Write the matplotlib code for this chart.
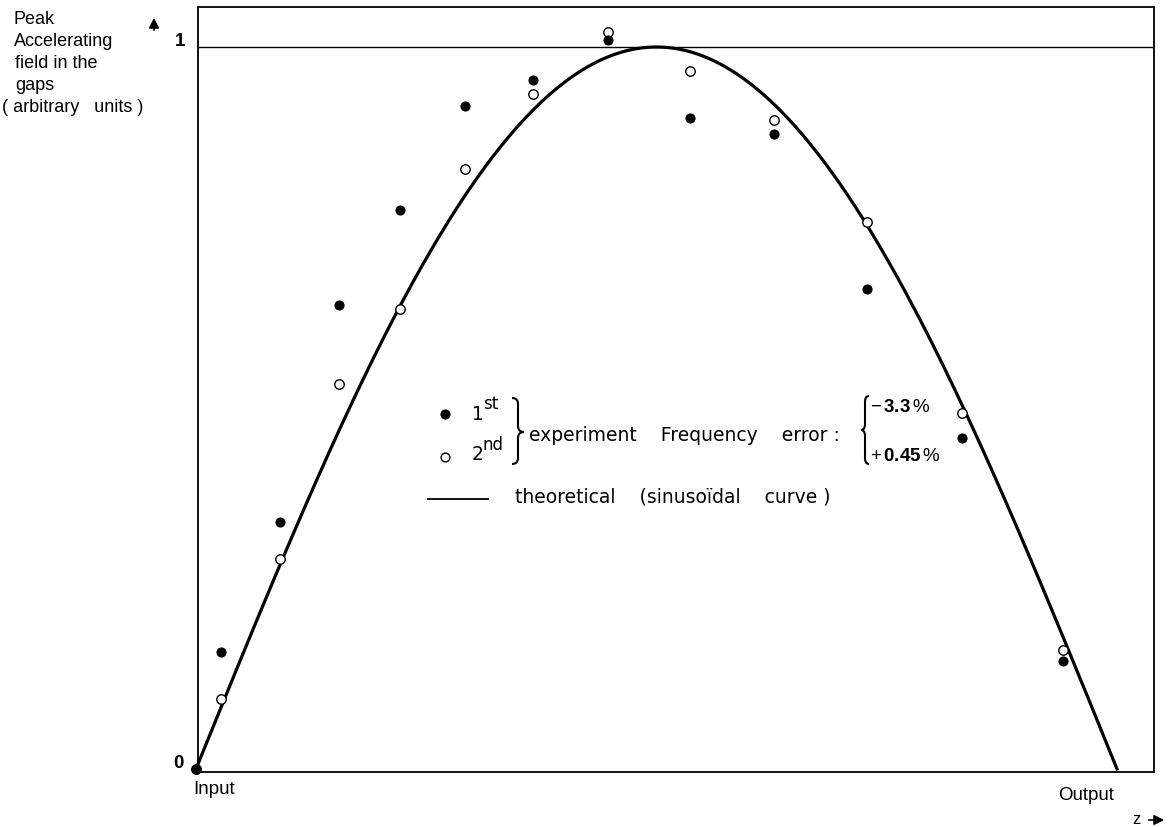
import numpy as np
import matplotlib
matplotlib.use("Agg")
import matplotlib.pyplot as plt
from matplotlib.path import Path
from matplotlib.patches import PathPatch, FancyArrowPatch
from matplotlib.lines import Line2D

plt.rcParams["font.family"] = ["Liberation Sans", "DejaVu Sans"]
plt.rcParams["mathtext.fontset"] = "custom"
plt.rcParams["mathtext.rm"] = "Liberation Sans"
plt.rcParams["mathtext.it"] = "Liberation Sans:italic"
plt.rcParams["mathtext.bf"] = "Liberation Sans:bold"

# Gap positions along the structure (0 = input, 1 = output)
z_gaps = [0.0, 0.0277, 0.0912, 0.1558, 0.2220, 0.2921, 0.3664,
          0.4479, 0.5364, 0.6281, 0.7291, 0.8317, 0.9414]
# Measured peak accelerating field, 1st experiment (frequency error -3.3 %)
field_1st = [0.0, 0.162, 0.342, 0.643, 0.774, 0.918, 0.954,
             1.010, 0.902, 0.880, 0.665, 0.458, 0.150]
# Measured peak accelerating field, 2nd experiment (frequency error +0.45 %)
field_2nd = [0.0, 0.097, 0.291, 0.533, 0.637, 0.831, 0.935,
             1.021, 0.967, 0.899, 0.758, 0.493, 0.165]

W, H = 1171, 827
fig = plt.figure(figsize=(W / 100, H / 100), dpi=100)
fig.patch.set_facecolor("white")


def fpos(x, y):
    """Pixel position -> figure fraction."""
    return x / W, 1 - y / H


ax = fig.add_axes([198 / W, 1 - 772 / H, (1154 - 198) / W, (772 - 7) / H])
ax.set_xlim(0.0022, 1.0402)
ax.set_ylim(-0.0042, 1.0554)
ax.set_xticks([])
ax.set_yticks([])
for s in ax.spines.values():
    s.set_linewidth(1.3)
    s.set_color("black")

# reference level
ax.axhline(1.0, color="black", lw=1.0)

# theoretical sinusoidal distribution
z = np.linspace(0, 1, 500)
ax.plot(z, np.sin(np.pi * z), color="black", lw=2.3, clip_on=False, zorder=3)

# measurements
ax.plot(z_gaps, field_2nd, "o", ms=6.8, mfc="white", mec="black", mew=1.0,
        clip_on=False, zorder=4)
ax.plot(z_gaps, field_1st, "o", ms=6.3, color="black", mec="black",
        clip_on=False, zorder=5)

fs = 13.5
KEY = ["DejaVu Sans"]


def word(x, y, s, size=fs, **kw):
    fig.text(*fpos(x, y), s, fontsize=size, ha="left", va="center", **kw)


def arrow(x0, y0, x1, y1):
    fig.add_artist(FancyArrowPatch(
        fpos(x0, y0), fpos(x1, y1), transform=fig.transFigure,
        arrowstyle="-|>,head_length=4,head_width=2", lw=1.2,
        color="black", mutation_scale=1.5))


# y-axis caption
word(14, 19, "Peak", 13)
word(14, 41, "Accelerating", 13)
word(15, 63, "field in the", 13)
word(15, 85, "gaps", 13)
word(2, 108, "( arbitrary   units )", 13)
arrow(154, 33, 154, 15)
fig.text(*fpos(180, 41), "1", fontsize=fs, ha="center", va="center",
         fontweight="bold")
fig.text(*fpos(178, 764), "0", fontsize=fs, ha="center", va="center",
         fontweight="bold")

# x-axis captions
word(193, 789, "Input")
fig.text(*fpos(1086, 796), "Output", fontsize=fs, ha="center", va="center")
word(1132, 819, "z", 12)
arrow(1146, 820, 1167, 820)


def brace(x_flat, x_tip, y_top, y_bot, y_mid):
    """Curly brace drawn in pixel coordinates; tip points toward x_tip."""
    xm = (x_flat + x_tip) / 2
    r = 6
    verts = [
        (x_flat, y_top), (xm, y_top), (xm, y_top + r),
        (xm, y_mid - r),
        (xm, y_mid), (x_tip, y_mid),
        (xm, y_mid), (xm, y_mid + r),
        (xm, y_bot - r),
        (xm, y_bot), (x_flat, y_bot),
    ]
    codes = [Path.MOVETO, Path.CURVE3, Path.CURVE3,
             Path.LINETO,
             Path.CURVE3, Path.CURVE3,
             Path.CURVE3, Path.CURVE3,
             Path.LINETO,
             Path.CURVE3, Path.CURVE3]
    verts = [fpos(x, y) for x, y in verts]
    fig.add_artist(PathPatch(Path(verts, codes), transform=fig.transFigure,
                             fill=False, lw=1.5, color="black"))


# key
fig.add_artist(Line2D([fpos(445, 0)[0]], [fpos(0, 414)[1]], marker="o",
                      ms=6.3, color="black", transform=fig.transFigure))
fig.add_artist(Line2D([fpos(445, 0)[0]], [fpos(0, 457)[1]], marker="o",
                      ms=6.3, mfc="white", mec="black", mew=1.0,
                      transform=fig.transFigure))
word(472, 414, "1", 13.5, family=KEY)
word(483, 404, "st", 12, family=KEY)
word(472, 455, "2", 13.5, family=KEY)
word(483, 445, "nd", 12, family=KEY)
brace(512, 524, 398, 464, 432)
word(529, 436, "experiment    Frequency    error :", 13.5, family=KEY)
brace(869, 861, 396, 464, 430)
word(870, 407, r"$-\,\mathbf{3.3}\,\%$")
word(870, 456, r"$+\,\mathbf{0.45}\,\%$")
fig.add_artist(Line2D([fpos(428, 0)[0], fpos(488, 0)[0]],
                      [fpos(0, 499)[1]] * 2, color="black", lw=1.3,
                      transform=fig.transFigure))
word(515, 497, "theoretical    (sinusoïdal    curve )", 13.5, family=KEY)

fig.savefig("out.png", dpi=100, facecolor="white")
